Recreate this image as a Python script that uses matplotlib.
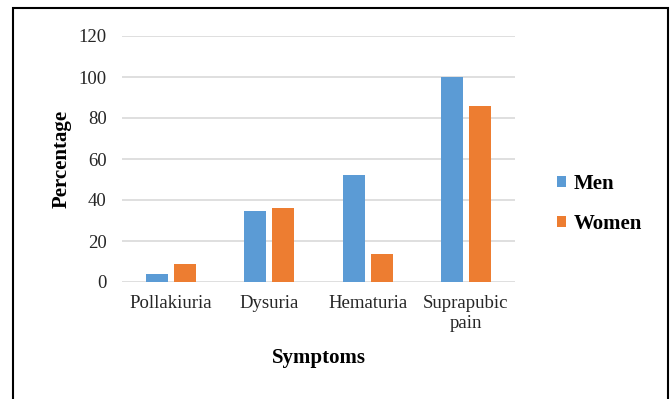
import matplotlib.pyplot as plt
from matplotlib.patches import Rectangle
import numpy as np

# symptom frequency by sex (%)
symptoms = ['Pollakiuria', 'Dysuria', 'Hematuria', 'Suprapubic\npain']
men = [4, 34.5, 52, 100]
women = [9, 36, 13.5, 86]
yticks = [0, 20, 40, 60, 80, 100, 120]

plt.rcParams['font.family'] = ['Liberation Serif', 'DejaVu Serif']

fig = plt.figure(figsize=(6.72, 3.99), dpi=100)
ax = fig.add_axes([122 / 672, 1 - 282 / 399, (515 - 122) / 672, (282 - 36) / 399])

x = np.arange(len(symptoms))
w = 0.224
off = 0.143
ax.bar(x - off, men, w, color='#5B9BD5', label='Men', zorder=3)
ax.bar(x + off, women, w, color='#ED7D31', label='Women', zorder=3)

ax.set_xlim(-0.5, len(symptoms) - 0.5)
ax.set_ylim(0, 120)
ax.set_yticks(yticks)
ax.set_xticks(x)
ax.set_xticklabels(symptoms, fontsize=13.5, color='#262626', linespacing=1.25)
ax.tick_params(axis='y', labelsize=13.5, labelcolor='#262626', length=0, pad=11)
ax.tick_params(axis='x', length=0, pad=9)
ax.yaxis.grid(True, color='#D9D9D9', linewidth=1.2, zorder=0)
for s in ax.spines.values():
    s.set_visible(False)

ax.set_xlabel('Symptoms', fontsize=15, fontweight='bold', labelpad=12)
ax.set_ylabel('Percentage', fontsize=15, fontweight='bold', labelpad=5)

fig.legend(loc='center left', bbox_to_anchor=(538 / 672, 1 - 204 / 399),
           frameon=False, prop={'size': 15, 'weight': 'bold'},
           handlelength=0.45, handleheight=0.45, handletextpad=0.35,
           labelspacing=0.95)

# outer frame around the chart
fig.patches.append(Rectangle((13 / 672, -0.05), (668 - 13) / 672, 1.05 - 8 / 399,
                             transform=fig.transFigure, fill=False,
                             edgecolor='black', linewidth=1.5))

fig.savefig('out.png', dpi=100)
